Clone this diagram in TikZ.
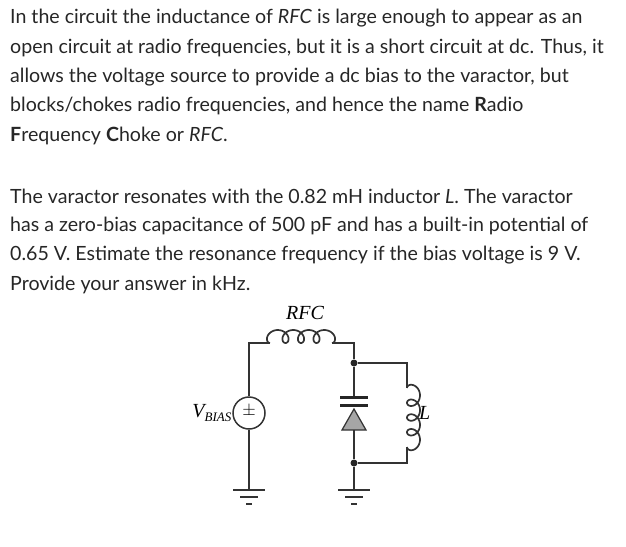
\documentclass[tikz,border=0pt]{standalone}
\usepackage{fontspec}
\setmainfont{Lato}
\newfontfamily\ckt{Liberation Serif}
\begin{document}
\begin{tikzpicture}[x=1pt,y=-1pt,
 txt/.style={anchor=west,inner sep=0pt,font=\fontsize{19.6}{22}\selectfont,text=black!85},
 w/.style={line width=1.7pt,black!80},
 dot/.style={circle,fill=black!85,inner sep=0pt,minimum size=7pt},
 lbl/.style={font=\ckt\itshape\fontsize{20}{22}\selectfont,inner sep=0pt}]
\useasboundingbox (0,0) rectangle (626,546);
\node[txt] (t1) at (10,18) {In the circuit the inductance of \emph{RFC} is large enough to appear as an};
\node[txt] (t2) at (10,48) {open circuit at radio frequencies, but it is a short circuit at dc. Thus, it};
\node[txt] (t3) at (10,77) {allows the voltage source to provide a dc bias to the varactor, but};
\node[txt] (t4) at (10,106) {blocks/chokes radio frequencies, and hence the name \textbf{R}adio};
\node[txt] (t5) at (10,136) {\textbf{F}requency \textbf{C}hoke or \emph{RFC}.};
\node[txt] (t6) at (10,196) {The varactor resonates with the 0.82 mH inductor \emph{L}. The varactor};
\node[txt] (t7) at (10,226) {has a zero-bias capacitance of 500 pF and has a built-in potential of};
\node[txt] (t8) at (10,255) {0.65 V. Estimate the resonance frequency if the bias voltage is 9 V.};
\node[txt] (t9) at (10,285) {Provide your answer in kHz.};
% circuit
\coordinate (lb) at (249,490);
\coordinate (lt) at (249,343);
\coordinate (r1) at (270,343);
\coordinate (r2) at (332,343);
\coordinate (rt) at (354,343);
\coordinate (rb) at (354,490);
\coordinate (l1) at (407,388);
\coordinate (l2) at (407,447);
\node[dot] (d1) at (354,363) {};
\node[dot] (d2) at (354,463) {};
\node[circle,draw=black!80,line width=1.5pt,minimum size=32pt,inner sep=0pt] (src) at (249,413) {};
\node[font=\fontsize{17}{17}\selectfont] at (249,411) {$\pm$};
\draw[w] (lb) -- (src.south) (src.north) -- (lt) -- (r1);
\draw[w,smooth] plot[domain=0:1440,samples=120,variable=\t] ({270+(\t/360)*15.5-6.5*sin(\t)},{343-6.5*(1-cos(\t))});
\draw[w] (r2) -- (rt) -- (d1) -- (354,397);
\draw[line width=3pt,black!85] (340,397) -- (368,397) (340,405) -- (368,405);
\draw[line width=1.2pt,black!80,fill=black!35] (354,409) -- (366,430) -- (342,430) -- cycle;
\draw[w] (354,430) -- (d2) -- (rb);
\draw[w] (d1) -- (407,363) -- (l1);
\draw[w,smooth] plot[domain=0:1440,samples=120,variable=\t] ({407+6.5*(1-cos(\t))},{388+(\t/360)*14.75-6.5*sin(\t)});
\draw[w] (l2) -- (407,463) -- (d2);
\foreach \x in {249,354}{
 \draw[w] (\x-16,490) -- (\x+16,490);
 \draw[w] (\x-9,497) -- (\x+9,497);
 \draw[w] (\x-3,504) -- (\x+3,504);}
\node[lbl] (lrfc) at (305,313) {RFC};
\node[lbl,anchor=east] (lv) at (232,413) {V\textsubscript{\fontsize{13}{13}\selectfont BIAS}};
\node[lbl,anchor=west] (ll) at (419,413) {L};
\end{tikzpicture}
\end{document}
